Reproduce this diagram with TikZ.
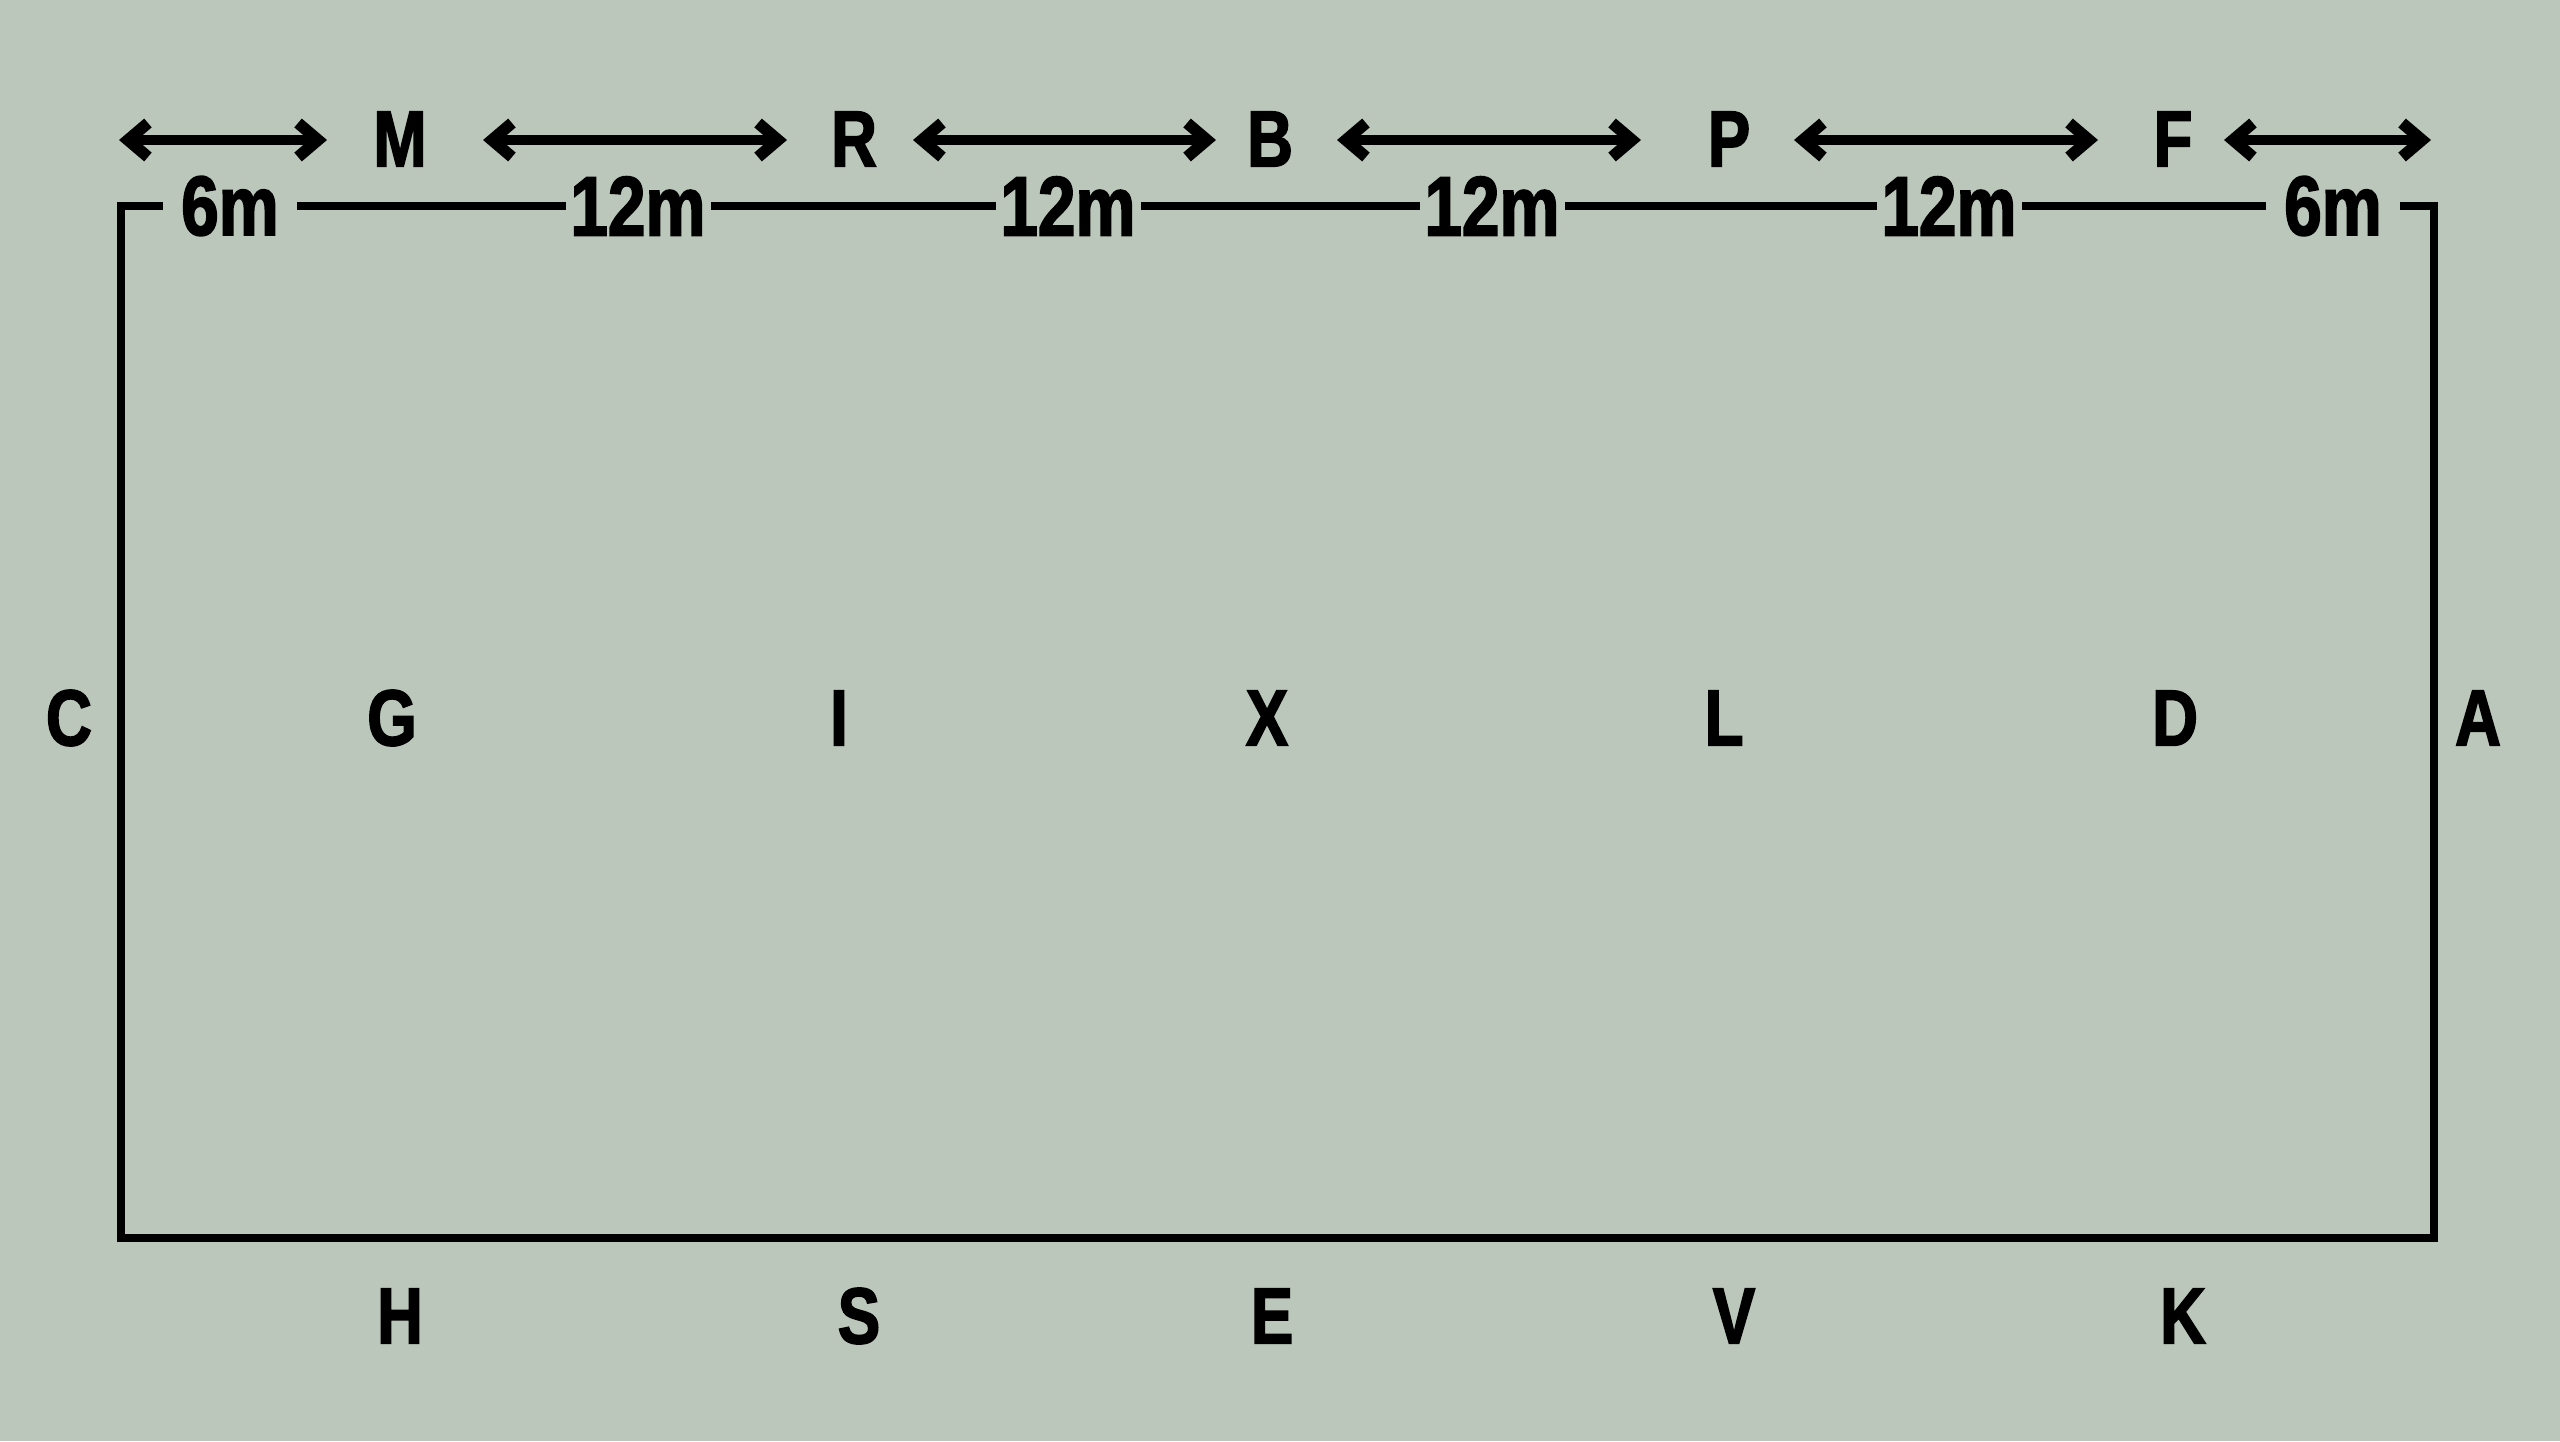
\documentclass[tikz,border=0pt]{standalone}
\usepackage{fontspec}
\setmainfont{Liberation Sans}[FakeStretch=0.8, BoldFeatures={FakeBold=2}]
\usetikzlibrary{arrows.meta}
\definecolor{bg}{HTML}{BBC7BA}
\tikzset{
  letter/.style={inner sep=0pt, font=\fontsize{22.6pt}{26pt}\selectfont\bfseries},
  dist/.style={inner sep=0pt, fill=bg, minimum height=8mm, font=\fontsize{24pt}{28pt}\selectfont\bfseries},
  short/.style={dist, minimum width=13.4mm},
  long/.style={dist, minimum width=14.5mm},
  border/.style={line width=2.1pt, line join=miter},
  dimarrow/.style={line width=2.6pt,
    {Straight Barb[length=2mm,width=3.4mm,line width=3.3pt,sharp]}-{Straight Barb[length=2mm,width=3.4mm,line width=3.3pt,sharp]}}
}
\begin{document}
\begin{tikzpicture}[x=0.1mm,y=-0.1mm]
\fill[bg] (0,0) rectangle (2560,1441);
\useasboundingbox (0,0) rectangle (2560,1441);
% arena
\coordinate (tl) at (121,206);
\coordinate (tr) at (2434,206);
\coordinate (br) at (2434,1238);
\coordinate (bl) at (121,1238);
\draw[border] (tr) -- (br) -- (bl) -- (tl) -- cycle;
% distance labels on top edge
\node[short] (d1) at (230,206) {6m};
\node[long]  (d2) at (638,206) {12m};
\node[long]  (d3) at (1068,206) {12m};
\node[long]  (d4) at (1492,206) {12m};
\node[long]  (d5) at (1949,206) {12m};
\node[short] (d6) at (2333,206) {6m};
% top letters
\node[letter] (M) at (400,139) {M};
\node[letter] (R) at (854,139) {R};
\node[letter] (B) at (1270,139) {B};
\node[letter] (P) at (1729,139) {P};
\node[letter] (F) at (2173,139) {F};
% middle letters
\node[letter] (C) at (69,718) {C};
\node[letter] (G) at (392,718) {G};
\node[letter] (I) at (839,718) {I};
\node[letter] (X) at (1267,718) {X};
\node[letter] (L) at (1724,718) {L};
\node[letter] (D) at (2175,718) {D};
\node[letter] (A) at (2478,718) {A};
% bottom letters
\node[letter] (H) at (400,1316) {H};
\node[letter] (S) at (859,1316) {S};
\node[letter] (E) at (1272,1316) {E};
\node[letter] (V) at (1734,1316) {V};
\node[letter] (K) at (2183,1316) {K};
% dimension arrows
\coordinate (a1s) at (119,140);  \coordinate (a1e) at (327,140);
\coordinate (a2s) at (483,140);  \coordinate (a2e) at (787,140);
\coordinate (a3s) at (913,140);  \coordinate (a3e) at (1216,140);
\coordinate (a4s) at (1337,140); \coordinate (a4e) at (1641,140);
\coordinate (a5s) at (1794,140); \coordinate (a5e) at (2098,140);
\coordinate (a6s) at (2224,140); \coordinate (a6e) at (2431,140);
\draw[dimarrow] (a1s) -- (a1e);
\draw[dimarrow] (a2s) -- (a2e);
\draw[dimarrow] (a3s) -- (a3e);
\draw[dimarrow] (a4s) -- (a4e);
\draw[dimarrow] (a5s) -- (a5e);
\draw[dimarrow] (a6s) -- (a6e);
\end{tikzpicture}
\end{document}
